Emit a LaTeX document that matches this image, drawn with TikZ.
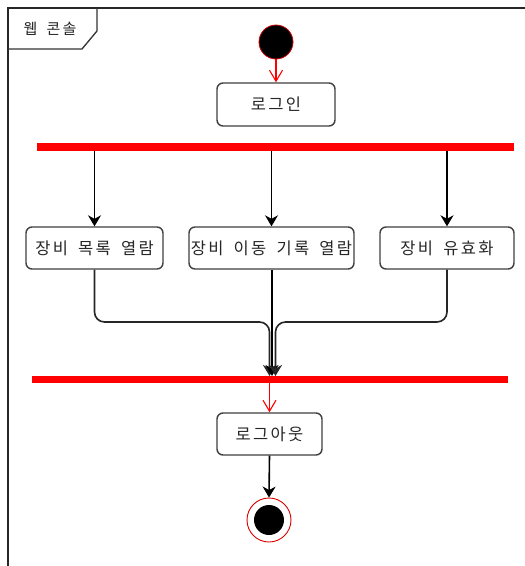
\documentclass[tikz,border=0pt]{standalone}
\usepackage{fontspec}
\newfontfamily\kr{Noto Sans CJK KR}[LetterSpace=14,WordSpace=1.7]
\usetikzlibrary{arrows.meta}
\begin{document}
\begin{tikzpicture}[x=1pt,y=-1pt,
  every node/.style={font=\kr\fontsize{16.5}{19}\selectfont, text=black!85},
  act/.style={draw=black!75, line width=1.4pt, rounded corners=6pt, inner sep=0pt, align=center},
  bar/.style={fill=red, draw=none, inner sep=0pt},
  arr/.style={draw=black, line width=1.6pt, -{Stealth[length=11pt,width=13pt,inset=3.5pt]}},
  rarr/.style={draw=red, line width=1.1pt, -{Straight Barb[length=11pt,width=13pt]}}
]
\useasboundingbox (0,0) rectangle (525,566);
\fill[white] (0,0) rectangle (525,566);
% frame
\draw[black!85, line width=1.8pt] (525,8) -- (8,8) -- (8,566);
\draw[black!80, line width=1.3pt] (8,49) -- (82,49) -- (97,31) -- (97,8);
\node[font=\kr\fontsize{15}{17}\selectfont] (title) at (50,29) {웹 콘솔};
% initial
\node[circle, fill=black, draw=red!80!black, line width=0.8pt, minimum size=34pt, inner sep=0pt] (init) at (276,42) {};
\node[act, minimum width=118pt, minimum height=43pt] (login) at (276,104.5) {로그인};
\node[bar, minimum width=477pt, minimum height=8pt] (fork) at (275.5,147) {};
\node[act, minimum width=137pt, minimum height=42pt] (b1) at (94.5,248) {장비 목록 열람};
\node[act, minimum width=165pt, minimum height=42pt] (b2) at (271.5,248) {장비 이동 기록 열람};
\node[act, minimum width=134pt, minimum height=42pt] (b3) at (447,248) {장비 유효화};
\node[bar, minimum width=476pt, minimum height=7pt] (join) at (270,379.5) {};
\node[act, minimum width=105pt, minimum height=42pt] (logout) at (269.5,434) {로그아웃};
\node[circle, draw=red!85!black, line width=0.9pt, fill=white, minimum size=44pt, inner sep=0pt] (final) at (269,520) {};
\node[circle, fill=black, minimum size=30pt, inner sep=0pt] (finalin) at (final.center) {};
% connectors
\draw[rarr] (init.south) -- (login.north);
\draw[arr] (fork.south -| b1.north) -- (b1.north);
\draw[arr] (fork.south -| b2.north) -- (b2.north);
\draw[arr] (fork.south -| b3.north) -- (b3.north);
\coordinate (j1) at (269.5,376);
\coordinate (j2) at (272,376);
\coordinate (j3) at (275.5,376);
\coordinate (c1) at (269.5,322);
\coordinate (c3) at (275.5,322);
\draw[arr, black!85, rounded corners=10pt] (b1.south) |- (c1) -- (j1);
\draw[arr] (b2.south -| j2) -- (j2);
\draw[arr, black!85, rounded corners=10pt] (b3.south) |- (c3) -- (j3);
\draw[rarr] (join.south -| logout.north) -- (logout.north);
\draw[arr] (logout.south) -- (final.north);
\end{tikzpicture}
\end{document}
